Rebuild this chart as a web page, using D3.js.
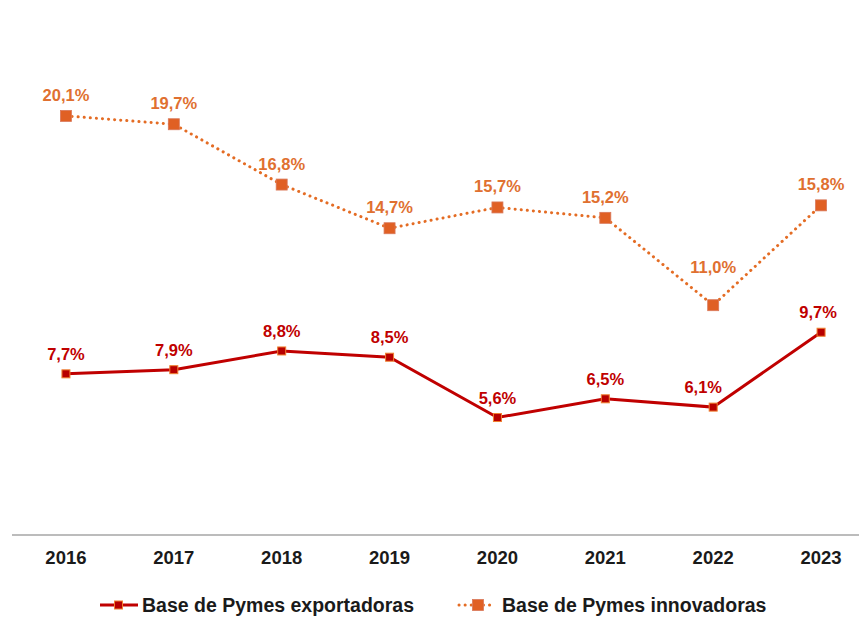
<!DOCTYPE html>
<html>
<head>
<meta charset="utf-8">
<script src="https://cdn.jsdelivr.net/npm/d3@7"></script>
<style>
  html, body { margin: 0; padding: 0; background: #fff; }
  svg { display: block; font-family: "Liberation Sans", Arial, sans-serif; }
</style>
</head>
<body>
<svg id="chart" width="859" height="619"></svg>
<script>
// Years on the category axis
const years = ["2016", "2017", "2018", "2019", "2020", "2021", "2022", "2023"];
// Share of SMEs (%) per series
const exportadoras = [7.7, 7.9, 8.8, 8.5, 5.6, 6.5, 6.1, 9.7];
const innovadoras = [20.1, 19.7, 16.8, 14.7, 15.7, 15.2, 11.0, 15.8];
const seriesNames = ["Base de Pymes exportadoras", "Base de Pymes innovadoras"];

// label nudges (dx, dy) so value labels clear the lines
const expLabelShift = [[0, 0], [0, 0], [0, 0], [0, 0], [0, 0], [0, 0], [-10, 0], [-3, 0]];
const innLabelShift = [[0, 0], [0, 0], [0, 0], [0, 0], [0, 0], [0, 0], [0, -17], [0, 0]];

const svg = d3.select("#chart");
const fmt = v => v.toFixed(1).replace(".", ",") + "%";

const x = d3.scaleBand().domain(years).range([12, 875]).padding(0);
const y = d3.scaleLinear().domain([0, 25]).range([534, 14]);
const cx = d => x(d) + x.bandwidth() / 2;

// category axis
const axis = svg.append("g").attr("transform", "translate(0,535)")
  .call(d3.axisBottom(x).tickSize(0).tickPadding(16));
axis.select(".domain").attr("stroke", "#a6a6a6").attr("stroke-width", 1.5)
  .attr("d", "M12,0H859");
axis.selectAll("text").attr("font-size", 18.5).attr("font-weight", "bold")
  .attr("fill", "#1a1a1a").attr("font-family", "'Liberation Sans', Arial, sans-serif");

const line = d3.line().x((d, i) => cx(years[i])).y(d => y(d));

const RED = "#c00000", ORANGE = "#e46c24";

// innovadoras: dotted line with large square markers
svg.append("path").datum(innovadoras).attr("d", line)
  .attr("fill", "none").attr("stroke", ORANGE).attr("stroke-width", 3)
  .attr("stroke-dasharray", "0.1 6").attr("stroke-linecap", "round");
svg.append("g").selectAll("rect").data(innovadoras).join("rect")
  .attr("x", (d, i) => cx(years[i]) - 5.5).attr("y", d => y(d) - 5.5)
  .attr("width", 11).attr("height", 11)
  .attr("fill", "#e06024").attr("stroke", "#d9785a").attr("stroke-width", 0.8);

// exportadoras: solid line with small square markers
svg.append("path").datum(exportadoras).attr("d", line)
  .attr("fill", "none").attr("stroke", RED).attr("stroke-width", 3);
svg.append("g").selectAll("rect").data(exportadoras).join("rect")
  .attr("x", (d, i) => cx(years[i]) - 4).attr("y", d => y(d) - 4)
  .attr("width", 8).attr("height", 8)
  .attr("fill", "#b80000").attr("stroke", "#f08030").attr("stroke-width", 1);

// value labels
svg.append("g").selectAll("text").data(innovadoras).join("text")
  .attr("x", (d, i) => cx(years[i]) + innLabelShift[i][0])
  .attr("y", (d, i) => y(d) - 15 + innLabelShift[i][1])
  .attr("text-anchor", "middle").attr("font-size", 16.5).attr("font-weight", "bold")
  .attr("fill", "#e07030").text(fmt);
svg.append("g").selectAll("text").data(exportadoras).join("text")
  .attr("x", (d, i) => cx(years[i]) + expLabelShift[i][0])
  .attr("y", (d, i) => y(d) - 14 + expLabelShift[i][1])
  .attr("text-anchor", "middle").attr("font-size", 16.5).attr("font-weight", "bold")
  .attr("fill", RED).text(fmt);

// legend
const lg = svg.append("g");
const l1 = lg.append("g").attr("transform", "translate(100,605)");
l1.append("line").attr("x1", 0).attr("x2", 38).attr("stroke", RED).attr("stroke-width", 3);
l1.append("rect").attr("x", 14.5).attr("y", -4).attr("width", 8).attr("height", 8)
  .attr("fill", "#b80000").attr("stroke", "#f08030").attr("stroke-width", 1);
l1.append("text").attr("x", 42).attr("y", 6.5).attr("font-size", 19.5).attr("font-weight", "bold")
  .attr("fill", "#1a1a1a").text(seriesNames[0]);

const l2 = lg.append("g").attr("transform", "translate(458,605)");
l2.append("line").attr("x1", 1).attr("x2", 37).attr("stroke", ORANGE).attr("stroke-width", 3)
  .attr("stroke-dasharray", "0.1 6").attr("stroke-linecap", "round");
l2.append("rect").attr("x", 14.5).attr("y", -5.5).attr("width", 11).attr("height", 11)
  .attr("fill", "#e06024").attr("stroke", "#d9785a").attr("stroke-width", 0.8);
l2.append("text").attr("x", 44).attr("y", 6.5).attr("font-size", 19.5).attr("font-weight", "bold")
  .attr("fill", "#1a1a1a").text(seriesNames[1]);
</script>
</body>
</html>
